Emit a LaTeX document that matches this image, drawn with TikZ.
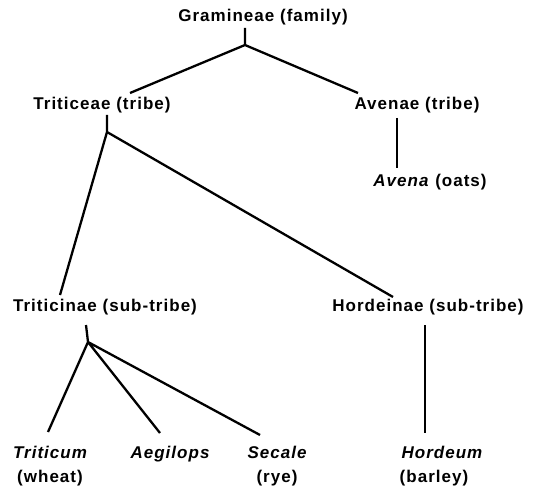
\documentclass[tikz,border=0pt]{standalone}
\usepackage{fontspec}
\setmainfont{Liberation Sans}[LetterSpace=6]
\begin{document}
\begin{tikzpicture}[x=1pt,y=-1pt,
  lab/.style={inner sep=0pt,anchor=base,font=\fontsize{17}{19}\selectfont\bfseries},
  ilab/.style={lab,font=\fontsize{17}{19}\selectfont\bfseries\itshape},
  edge/.style={line width=2.3pt}]
\useasboundingbox (0,0) rectangle (546,492);
\node[lab] (gram) at (263,22) {Gramineae (family)};
\node[lab] (trib) at (102,110) {Triticeae (tribe)};
\node[lab] (aven) at (417,110) {Avenae (tribe)};
\node[lab] (oats) at (430,186) {\textit{Avena} (oats)};
\node[lab] (ttin) at (105,311) {Triticinae (sub-tribe)};
\node[lab] (hord) at (428,311) {Hordeinae (sub-tribe)};
\node[ilab] (trit) at (50,458) {Triticum};
\node[lab] (whea) at (50,482) {(wheat)};
\node[ilab] (aegi) at (170,458) {Aegilops};
\node[ilab] (seca) at (277,458) {Secale};
\node[lab] (rye) at (277,482) {(rye)};
\node[ilab] (hdm) at (442,458) {Hordeum};
\node[lab] (barl) at (434,482) {(barley)};
% connector points
\coordinate (g0) at (245,28);
\coordinate (gj) at (245,45);
\coordinate (g1) at (130,93);
\coordinate (g2) at (358,93);
\coordinate (a0) at (397,118);
\coordinate (a1) at (397,168);
\coordinate (t0) at (107,115);
\coordinate (tj) at (107,132);
\coordinate (t1) at (60,295);
\coordinate (t2) at (393,297);
\coordinate (s0) at (86,325);
\coordinate (sj) at (88,342);
\coordinate (s1) at (48,432);
\coordinate (s2) at (160,433);
\coordinate (s3) at (260,435);
\coordinate (h0) at (425,325);
\coordinate (h1) at (425,433);
\draw[edge] (g0) -- (gj) (g1) -- (gj) -- (g2);
\draw[edge] (a0) -- (a1);
\draw[edge] (t0) -- (tj) (t1) -- (tj) -- (t2);
\draw[edge] (s0) -- (sj) (sj) -- (s1) (sj) -- (s2) (sj) -- (s3);
\draw[edge] (h0) -- (h1);
\end{tikzpicture}
\end{document}
